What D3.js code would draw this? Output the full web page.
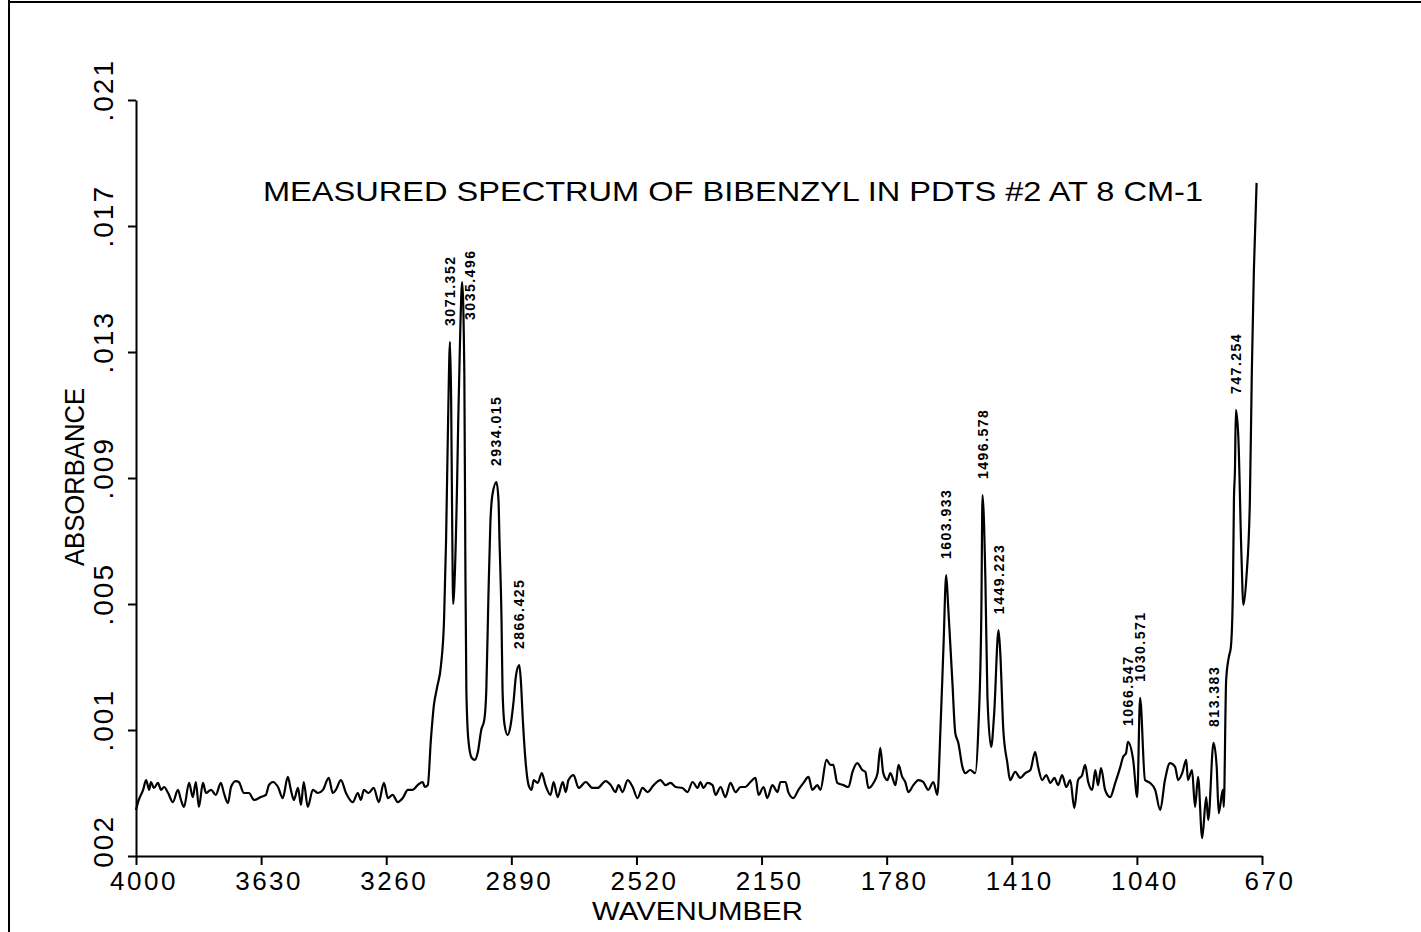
<!DOCTYPE html>
<html>
<head>
<meta charset="utf-8">
<script src="https://cdn.jsdelivr.net/npm/d3@7"></script>
<style>
  html, body { margin: 0; padding: 0; background: #fff; }
  svg { display: block; }
</style>
</head>
<body>
<script>
// ---------------- data ----------------
const wavenumber = [
  4000,3994,3979,3970,3961,3956,3947,3935,3926,3917,3905,3891,3876,3867,3858,3843,3832,3823,3814,3802,
  3793,3778,3764,3749,3740,3728,3719,3705,3696,3681,3666,3651,3631,3616,3607,3595,3580,3566,3551,3542,
  3533,3521,3512,3504,3492,3477,3462,3447,3430,3418,3409,3394,3379,3359,3344,3335,3326,3312,3297,3282,
  3267,3255,3241,3226,3211,3196,3182,3167,3152,3146,3137,3128,3119,3110,3098,3089,3083,3077,3071.352,3068,
  3065,3062,3059,3050,3047,3041,3035.496,3029,3026,3023,3017,3007,2998,2989,2979,2970,2964,2958,2952,2946,
  2934.015,2928,2925,2919,2916,2910,2901,2892,2883,2876,2866.425,2862,2856,2847,2839,2830,2824,2812,2800,2789,
  2774,2765,2753,2738,2729,2721,2706,2691,2670,2650,2635,2611,2596,2582,2573,2561,2546,2531,2517,2502,
  2487,2469,2449,2434,2419,2404,2384,2369,2354,2339,2331,2322,2310,2295,2286,2271,2257,2242,2227,2212,
  2198,2183,2168,2159,2144,2133,2118,2103,2094,2079,2071,2056,2041,2026,2011,2000,1985,1976,1958,1946,
  1938,1926,1908,1893,1881,1867,1852,1843,1834,1819,1807,1799,1790,1778,1769,1754,1745,1734,1725,1716,
  1701,1686,1672,1657,1642,1630,1621,1612,1603.933,1598,1586,1577,1568,1556,1547,1533,1518,1509,1500,1496.578,
  1488,1482,1471,1462,1449.223,1444,1435,1423,1415,1400,1385,1370,1355,1341,1332,1320,1308,1296,1284,1273,
  1261,1249,1237,1225,1214,1202,1193,1184,1172,1163,1155,1146,1134,1119,1104,1089,1081,1072,1066.547,1051,
  1039,1030.571,1016,1001,986,971,957,942,927,918,906,894,889,877,868,859,847,835,829,813.383,
  804,798,786,783,776,768,762,756,753,750,747.254,740,731,725,716,706,700,694,686
];
const absorbance = [
  -0.00154,-0.00129,-0.00090,-0.00059,-0.00090,-0.00065,-0.00084,-0.00068,-0.00090,-0.00081,-0.00100,-0.00129,-0.00090,-0.00122,-0.00144,-0.00068,-0.00113,-0.00065,-0.00144,-0.00068,
  -0.00100,-0.00090,-0.00106,-0.00068,-0.00100,-0.00132,-0.00081,-0.00062,-0.00065,-0.00100,-0.00100,-0.00122,-0.00113,-0.00106,-0.00075,-0.00065,-0.00081,-0.00116,-0.00049,-0.00090,
  -0.00122,-0.00084,-0.00138,-0.00065,-0.00144,-0.00090,-0.00100,-0.00090,-0.00052,-0.00100,-0.00090,-0.00059,-0.00100,-0.00129,-0.00100,-0.00122,-0.00090,-0.00100,-0.00084,-0.00129,
  -0.00068,-0.00116,-0.00106,-0.00129,-0.00116,-0.00090,-0.00090,-0.00075,-0.00065,-0.00081,-0.00075,0.00068,0.00179,0.00233,0.00306,0.00449,0.00703,0.01084,0.01332,0.01148,
  0.00767,0.00500,0.00544,0.00906,0.01084,0.01370,0.01522,0.01233,0.00640,0.00227,0.00068,0.00011,0.00005,0.00030,0.00100,0.00132,0.00227,0.00513,0.00757,0.00846,
  0.00887,0.00830,0.00703,0.00449,0.00227,0.00116,0.00084,0.00116,0.00195,0.00275,0.00306,0.00259,0.00132,-0.00011,-0.00075,-0.00090,-0.00059,-0.00068,-0.00037,-0.00075,
  -0.00106,-0.00065,-0.00113,-0.00065,-0.00097,-0.00059,-0.00043,-0.00084,-0.00065,-0.00084,-0.00084,-0.00062,-0.00075,-0.00097,-0.00075,-0.00097,-0.00059,-0.00081,-0.00116,-0.00084,
  -0.00097,-0.00075,-0.00059,-0.00075,-0.00068,-0.00081,-0.00084,-0.00097,-0.00065,-0.00084,-0.00065,-0.00084,-0.00068,-0.00075,-0.00106,-0.00081,-0.00113,-0.00068,-0.00097,-0.00081,
  -0.00081,-0.00065,-0.00052,-0.00106,-0.00081,-0.00116,-0.00075,-0.00097,-0.00065,-0.00065,-0.00097,-0.00116,-0.00090,-0.00068,-0.00049,-0.00090,-0.00075,-0.00090,0.00005,-0.00011,
  -0.00011,-0.00068,-0.00075,-0.00081,-0.00033,-0.00005,-0.00027,-0.00033,-0.00084,-0.00068,-0.00037,0.00043,-0.00037,-0.00059,-0.00037,-0.00075,-0.00011,-0.00049,-0.00065,-0.00097,
  -0.00075,-0.00059,-0.00065,-0.00090,-0.00065,-0.00106,0.00100,0.00364,0.00592,0.00490,0.00259,0.00090,0.00059,-0.00017,-0.00037,-0.00027,-0.00037,0.00100,0.00471,0.00846,
  0.00576,0.00205,0.00046,0.00154,0.00417,0.00344,0.00100,-0.00005,-0.00059,-0.00033,-0.00052,-0.00037,-0.00027,0.00030,-0.00017,-0.00059,-0.00043,-0.00068,-0.00052,-0.00075,
  -0.00043,-0.00081,-0.00059,-0.00148,-0.00059,-0.00043,-0.00011,-0.00065,-0.00090,-0.00027,-0.00075,-0.00021,-0.00090,-0.00113,-0.00068,-0.00017,0.00014,0.00027,0.00062,0.00005,
  -0.00113,0.00202,-0.00059,-0.00068,-0.00090,-0.00154,-0.00059,-0.00005,-0.00017,-0.00059,-0.00037,0.00005,-0.00059,-0.00027,-0.00144,-0.00049,-0.00243,-0.00113,-0.00186,0.00059,
  -0.00017,-0.00164,-0.00090,-0.00144,0.00259,0.00332,0.00364,0.00544,0.00830,0.00925,0.01116,0.01030,0.00662,0.00497,0.00586,0.00821,0.01243,0.01560,0.01837
];

const peakWavenumbers = [3071.352, 3035.496, 2934.015, 2866.425, 1603.933, 1496.578, 1449.223, 1066.547, 1030.571, 813.383, 747.254];
const peakLabels = ["3071.352", "3035.496", "2934.015", "2866.425", "1603.933", "1496.578", "1449.223", "1066.547", "1030.571", "813.383", "747.254"];

const xTickValues = [4000, 3630, 3260, 2890, 2520, 2150, 1780, 1410, 1040, 670];
const xTickLabels = ["4000", "3630", "3260", "2890", "2520", "2150", "1780", "1410", "1040", "670"];
const yTickValues = [0.021, 0.017, 0.013, 0.009, 0.005, 0.001, -0.003];
const yTickLabels = [".021", ".017", ".013", ".009", ".005", ".001", "002"];

const titleText = "MEASURED SPECTRUM OF BIBENZYL IN PDTS #2 AT 8 CM-1";
const xTitle = "WAVENUMBER";
const yTitle = "ABSORBANCE";

// ---------------- drawing ----------------
const W = 1421, H = 932;
const FONT = "'Liberation Sans', Arial, sans-serif";
const svg = d3.select("body").append("svg").attr("width", W).attr("height", H);
svg.append("rect").attr("width", W).attr("height", H).attr("fill", "#fff");

// page border (scan frame)
svg.append("line").attr("x1", 9).attr("x2", 9).attr("y1", 0).attr("y2", H)
  .attr("stroke", "#000").attr("stroke-width", 2);
svg.append("line").attr("x1", 9).attr("x2", W).attr("y1", 2).attr("y2", 2)
  .attr("stroke", "#000").attr("stroke-width", 2);

const x = d3.scaleLinear().domain([4000, 670]).range([136, 1262]);
const y = d3.scaleLinear().domain([-0.003, 0.021]).range([856, 100]);

// axes
const gx = svg.append("g").attr("transform", `translate(0,${y(-0.003)})`)
  .call(d3.axisBottom(x).tickValues(xTickValues).tickSize(9).tickSizeOuter(0).tickFormat(() => ""));
const gy = svg.append("g").attr("transform", `translate(${x(4000)},0)`)
  .call(d3.axisLeft(y).tickValues(yTickValues).tickSize(8).tickSizeOuter(0).tickFormat(() => ""));
[gx, gy].forEach(g => {
  g.selectAll("path, line").attr("stroke", "#000").attr("stroke-width", 2);
});

// x tick labels
svg.append("g").selectAll("text").data(xTickValues).join("text")
  .attr("x", d => x(d) + 8)
  .attr("y", 890)
  .attr("text-anchor", "middle")
  .attr("font-family", FONT).attr("font-size", 26).attr("letter-spacing", 2.5)
  .attr("fill", "#000")
  .text((d, i) => xTickLabels[i]);

// y tick labels (rotated)
svg.append("g").selectAll("text").data(yTickValues).join("text")
  .attr("transform", d => `translate(113,${y(d) - 41}) rotate(-90)`)
  .attr("text-anchor", "end")
  .attr("font-family", FONT).attr("font-size", 28).attr("letter-spacing", 2)
  .attr("fill", "#000")
  .text((d, i) => yTickLabels[i]);

// titles
const titleBaseline = 201;
svg.append("text").attr("x", 263).attr("y", titleBaseline)
  .attr("font-family", FONT).attr("font-size", 28)
  .attr("textLength", 940).attr("lengthAdjust", "spacingAndGlyphs")
  .attr("fill", "#000").text(titleText);
svg.append("text").attr("x", 592).attr("y", 920)
  .attr("font-family", FONT).attr("font-size", 25)
  .attr("textLength", 211).attr("lengthAdjust", "spacingAndGlyphs")
  .attr("fill", "#000").text(xTitle);
svg.append("text").attr("transform", "translate(84,566) rotate(-90)")
  .attr("font-family", FONT).attr("font-size", 28)
  .attr("textLength", 178).attr("lengthAdjust", "spacingAndGlyphs")
  .attr("fill", "#000").text(yTitle);

// spectrum
const points = wavenumber.map((w, i) => [w, absorbance[i]]);
const line = d3.line().x(d => x(d[0])).y(d => y(d[1])).curve(d3.curveMonotoneX);
svg.append("path").datum(points)
  .attr("d", line)
  .attr("fill", "none").attr("stroke", "#000").attr("stroke-width", 2.2)
  .attr("stroke-linejoin", "round");

// peak labels (rotated, placed above each peak; a label that would run into
// the title is set beside its neighbour's label, at the neighbour's height)
const labelFontSize = 14;
const labelLen = 70;
const placed = [];
peakWavenumbers.forEach((w, i) => {
  const idx = wavenumber.indexOf(w);
  const px = x(w);
  const py = y(absorbance[idx]);
  let lx = px + 5;
  let startY = py - 16;
  const prev = placed[placed.length - 1];
  if (prev && startY - labelLen < titleBaseline + 10) {
    lx = prev.lx + 20;
    startY = prev.startY - 6;
  }
  placed.push({ lx, startY });
  svg.append("text")
    .attr("transform", `translate(${lx},${startY}) rotate(-90)`)
    .attr("font-family", FONT).attr("font-size", labelFontSize).attr("font-weight", "bold")
    .attr("letter-spacing", 1.5)
    .attr("fill", "#000")
    .text(peakLabels[i]);
});
</script>
</body>
</html>
